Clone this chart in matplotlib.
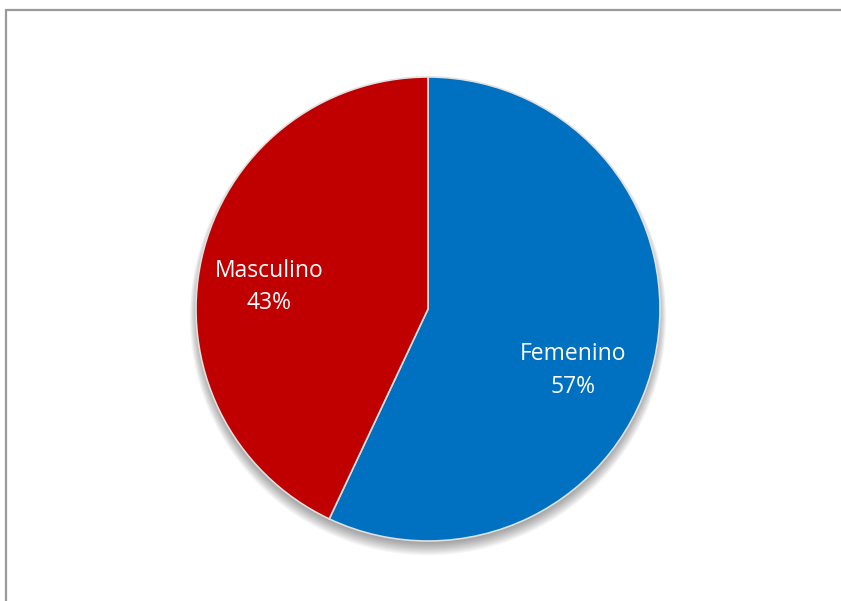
import matplotlib.pyplot as plt
from matplotlib.patches import Rectangle, Circle

# datos del grafico
categorias = ['Femenino', 'Masculino']
porcentajes = [57, 43]
colores = ['#0070C0', '#C00000']

W, H = 841, 601
fig = plt.figure(figsize=(W / 100, H / 100), dpi=100)
fig.patch.set_facecolor('white')

# marco gris del area del grafico (se corta por la derecha y abajo)
fig.add_artist(Rectangle((5.5 / W, -0.05), 1.0, 1 - 10.5 / H + 0.05,
                         transform=fig.transFigure, fill=False,
                         edgecolor='#9a9a9a', linewidth=1.6))

cx, cy, r = 428, 309, 232
ax = fig.add_axes([(cx - r) / W, (H - cy - r) / H, 2 * r / W, 2 * r / H])
ax.set_xlim(-1, 1)
ax.set_ylim(-1, 1)
ax.set_aspect('equal')
ax.axis('off')

# sombra difusa debajo de la tarta
for i in range(14):
    ax.add_patch(Circle((0, -0.035 + 0.0015 * i), 0.985 + 0.003 * (14 - i), color='black',
                        alpha=0.03, linewidth=0, zorder=0, clip_on=False))

wedges, textos = ax.pie(porcentajes, colors=colores, startangle=90, counterclock=False,
                        radius=1.0, wedgeprops=dict(edgecolor='#e0e0e0', linewidth=1.2),
                        labels=None)
for w in wedges:
    w.set_zorder(2)
    w.set_clip_on(False)

etiquetas = [f'{c}\n{p}%' for c, p in zip(categorias, porcentajes)]
posiciones = [(0.625, -0.265), (-0.685, 0.095)]
for txt, (x, y) in zip(etiquetas, posiciones):
    ax.text(x, y, txt, ha='center', va='center', color='white', fontsize=16.5,
            family='Open Sans', linespacing=1.45, zorder=3)

ax.set_xlim(-1, 1)
ax.set_ylim(-1, 1)
fig.savefig('out.png', dpi=100)
